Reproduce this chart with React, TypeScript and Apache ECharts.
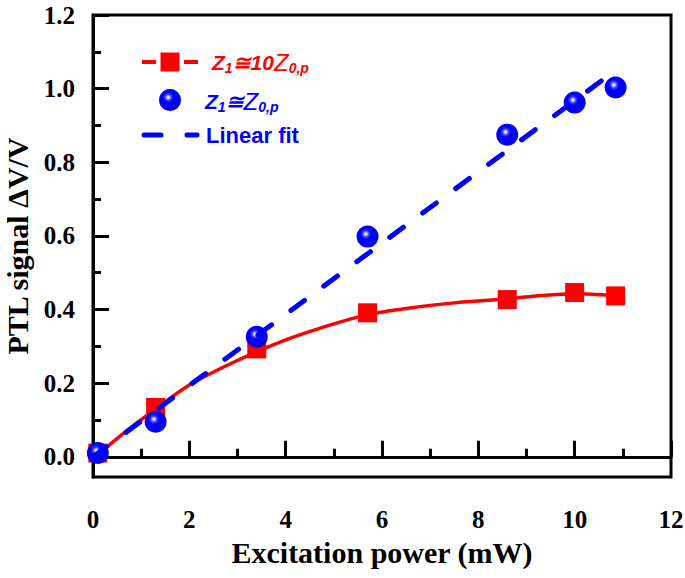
import React, { useEffect, useRef } from "react";
import * as echarts from "echarts";

const xValues = [0.1, 1.3, 3.4, 5.7, 8.6, 10.0, 10.85];
const redValues = [0.01, 0.134, 0.293, 0.391, 0.427, 0.446, 0.437];
const blueValues = [0.01, 0.095, 0.326, 0.598, 0.875, 0.962, 1.003];
const curveX = [0.1, 0.6, 1.3, 2.0, 2.7, 3.4, 4.1, 4.8, 5.7, 6.5, 7.5, 8.6, 9.3, 10.0, 10.85];
const curveY = [0.005, 0.06, 0.13, 0.195, 0.243, 0.285, 0.322, 0.353, 0.386, 0.403, 0.418, 0.429, 0.438, 0.443, 0.438];
const fitX = [0.0, 10.75];
const fitY = [0.0, 1.04];
const yMajorTicks = [0, 0.2, 0.4, 0.6, 0.8, 1.0, 1.2];
const yMinorTicks = [0.1, 0.3, 0.5, 0.7, 0.9, 1.1];

const serif = "'Liberation Serif', 'Times New Roman', serif";
const sans = "'Liberation Sans', Arial, sans-serif";

const sphereFill = () =>
  new echarts.graphic.RadialGradient(0.42, 0.38, 0.58, [
    { offset: 0, color: "#ffffff" },
    { offset: 0.08, color: "#dcdcff" },
    { offset: 0.24, color: "#4040ff" },
    { offset: 0.42, color: "#0000ff" },
    { offset: 1, color: "#0000f0" },
  ]);

export default function App() {
  const ref = useRef<HTMLDivElement>(null);
  useEffect(() => {
    if (!ref.current) return;
    const chart = echarts.init(ref.current, null, { renderer: "svg" });
    const red = xValues.map((x, i) => [x, redValues[i]]);
    const blue = xValues.map((x, i) => [x, blueValues[i]]);
    const curve = curveX.map((x, i) => [x, curveY[i]]);
    const fit = fitX.map((x, i) => [x, fitY[i]]);
    const yMin = -0.055;
    const labelStyle = {
      fontFamily: serif,
      fontWeight: "bold" as const,
      fontSize: 25,
      color: "#000",
    };
    chart.setOption({
      animation: false,
      backgroundColor: "#fff",
      grid: {
        left: 93,
        right: 14,
        top: 15,
        bottom: 101,
        show: true,
        borderColor: "#000",
        borderWidth: 3,
        containLabel: false,
        outerBoundsMode: "none",
      },
      xAxis: {
        type: "value",
        min: 0,
        max: 12,
        interval: 2,
        name: "Excitation power (mW)",
        nameLocation: "middle",
        nameGap: 60,
        nameTextStyle: { ...labelStyle, fontSize: 30 },
        axisLine: { show: true, lineStyle: { color: "#000", width: 3 } },
        axisTick: { show: true, inside: true, length: 16, lineStyle: { width: 3, color: "#000" } },
        minorTick: { show: true, splitNumber: 2, length: 8, lineStyle: { width: 3, color: "#000" } },
        splitLine: { show: false },
        minorSplitLine: { show: false },
        axisLabel: { ...labelStyle, margin: 30 },
      },
      yAxis: [
        {
          type: "value",
          min: yMin,
          max: 1.2,
          name: "PTL signal \u0394V/V",
          nameLocation: "middle",
          nameGap: 57,
          nameRotate: 90,
          nameTextStyle: { ...labelStyle, fontSize: 30 },
          axisLine: { show: true, lineStyle: { color: "#000", width: 3 } },
          axisTick: {
            show: true,
            inside: true,
            length: 16,
            customValues: yMajorTicks,
            lineStyle: { width: 3, color: "#000" },
          },
          splitLine: { show: false },
          axisLabel: {
            ...labelStyle,
            margin: 18,
            customValues: yMajorTicks,
            formatter: (v: number) => v.toFixed(1),
          },
        },
        {
          type: "value",
          min: yMin,
          max: 1.2,
          position: "left",
          axisLine: { show: false },
          axisTick: {
            show: true,
            inside: true,
            length: 8,
            customValues: yMinorTicks,
            lineStyle: { width: 3, color: "#000" },
          },
          axisLabel: { show: false },
          splitLine: { show: false },
        },
      ],
      series: [
        {
          type: "line",
          data: curve,
          smooth: 0.3,
          symbol: "none",
          lineStyle: { color: "#ff0000", width: 3.5 },
          z: 2,
        },
        {
          type: "scatter",
          data: red,
          symbol: "rect",
          symbolSize: 19,
          itemStyle: { color: "#ff0000", opacity: 1 },
          z: 2,
        },
        {
          type: "scatter",
          data: blue,
          symbol: "circle",
          symbolSize: 22,
          itemStyle: { color: sphereFill(), opacity: 1 },
          z: 3,
        },
        {
          type: "line",
          data: fit,
          symbol: "none",
          lineStyle: { color: "#0000ff", width: 5, type: [17, 24], cap: "round" },
          z: 4,
        },
      ],
      graphic: [
        { type: "line", shape: { x1: 142, y1: 62, x2: 156, y2: 62 }, style: { stroke: "#ff0000", lineWidth: 4 } },
        { type: "line", shape: { x1: 184, y1: 62, x2: 198, y2: 62 }, style: { stroke: "#ff0000", lineWidth: 4 } },
        { type: "rect", shape: { x: 160.5, y: 52.5, width: 19, height: 19 }, style: { fill: "#ff0000" } },
        {
          type: "text",
          x: 212,
          y: 62,
          style: {
            text: "{a|Z}{s|1}{a|\u224510}{z|Z}{s|0,p}",
            verticalAlign: "middle",
            rich: {
              a: { fontFamily: sans, fontSize: 21, fontWeight: "bold", fontStyle: "italic", fill: "#ff0000", lineHeight: 26 },
              z: { fontFamily: sans, fontSize: 24, fontWeight: "normal", fontStyle: "italic", fill: "#ff0000", lineHeight: 26 },
              s: { fontFamily: sans, fontSize: 14, fontWeight: "bold", fontStyle: "italic", fill: "#ff0000", lineHeight: 14, verticalAlign: "bottom" },
            },
          },
        },
        { type: "circle", shape: { cx: 170, cy: 100, r: 11 }, style: { fill: sphereFill() } },
        {
          type: "text",
          x: 205,
          y: 101,
          style: {
            text: "{a|Z}{s|1}{a|\u2245}{z|Z}{s|0,p}",
            verticalAlign: "middle",
            rich: {
              a: { fontFamily: sans, fontSize: 21, fontWeight: "bold", fontStyle: "italic", fill: "#0000ff", lineHeight: 26 },
              z: { fontFamily: sans, fontSize: 24, fontWeight: "normal", fontStyle: "italic", fill: "#0000ff", lineHeight: 26 },
              s: { fontFamily: sans, fontSize: 14, fontWeight: "bold", fontStyle: "italic", fill: "#0000ff", lineHeight: 14, verticalAlign: "bottom" },
            },
          },
        },
        { type: "line", shape: { x1: 144, y1: 135, x2: 161, y2: 135 }, style: { stroke: "#0000ff", lineWidth: 5, lineCap: "round" } },
        { type: "line", shape: { x1: 187, y1: 135, x2: 197, y2: 135 }, style: { stroke: "#0000ff", lineWidth: 5, lineCap: "round" } },
        {
          type: "text",
          x: 206,
          y: 135,
          style: {
            text: "Linear fit",
            fontFamily: sans,
            fontSize: 22,
            fontWeight: "bold",
            fill: "#0000ff",
            verticalAlign: "middle",
          },
        },
      ],
    });
    return () => chart.dispose();
  }, []);
  return <div ref={ref} style={{ width: 685, height: 578, position: "absolute", left: 0, top: 0 }} />;
}
